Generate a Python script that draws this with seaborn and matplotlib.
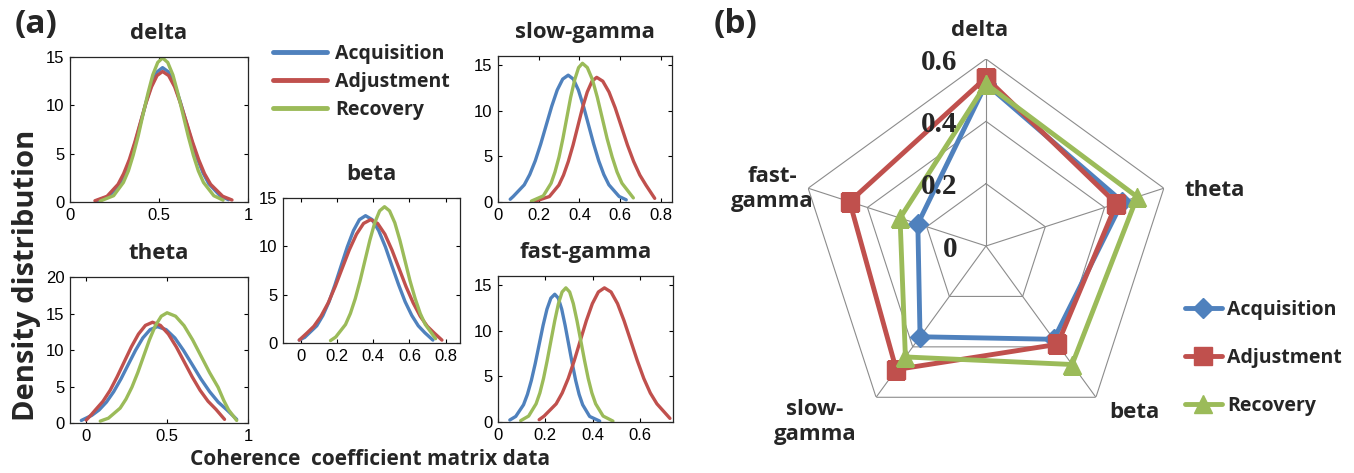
import numpy as np
import pandas as pd
import matplotlib
matplotlib.use("Agg")
import matplotlib.pyplot as plt
import seaborn as sns

# stages / colours
stages = ["Acquisition", "Adjustment", "Recovery"]
colors = ["#4F81BD", "#C0504D", "#9BBB59"]

# ---- panel (a): density curves ----
delta_acq_x = [0.15, 0.22, 0.28, 0.31, 0.34, 0.37, 0.40, 0.43, 0.46, 0.49, 0.52, 0.5525, 0.585, 0.6175, 0.65, 0.6825, 0.715, 0.7475, 0.78, 0.845, 0.89]
delta_acq_y = [0.12, 0.61, 1.88, 3.01, 4.51, 6.36, 8.43, 10.49, 12.27, 13.47, 13.9, 13.47, 12.27, 10.49, 8.43, 6.36, 4.51, 3.01, 1.88, 0.61, 0.24]
delta_adj_x = [0.14, 0.208, 0.27, 0.301, 0.333, 0.364, 0.395, 0.426, 0.458, 0.489, 0.52, 0.554, 0.588, 0.621, 0.655, 0.689, 0.723, 0.756, 0.79, 0.858, 0.91]
delta_adj_y = [0.13, 0.59, 1.83, 2.92, 4.38, 6.18, 8.19, 10.19, 11.91, 13.08, 13.5, 13.08, 11.91, 10.19, 8.19, 6.18, 4.38, 2.92, 1.83, 0.59, 0.21]
delta_rec_x = [0.17, 0.245, 0.30, 0.328, 0.355, 0.383, 0.41, 0.438, 0.465, 0.493, 0.52, 0.549, 0.578, 0.606, 0.635, 0.664, 0.693, 0.721, 0.75, 0.808, 0.86]
delta_rec_y = [0.1, 0.65, 2.02, 3.22, 4.84, 6.82, 9.04, 11.25, 13.15, 14.44, 14.9, 14.44, 13.15, 11.25, 9.04, 6.82, 4.84, 3.22, 2.02, 0.65, 0.19]

theta_acq_x = [-0.03, 0.035, 0.08, 0.125, 0.17, 0.215, 0.26, 0.305, 0.35, 0.395, 0.44, 0.494, 0.548, 0.601, 0.655, 0.709, 0.763, 0.816, 0.87, 0.93]
theta_acq_y = [0.35, 1.05, 1.79, 2.86, 4.29, 6.04, 8.01, 9.96, 11.65, 12.79, 13.2, 12.79, 11.65, 9.96, 8.01, 6.04, 4.29, 2.86, 1.79, 0.5]
theta_adj_x = [0.0, 0.03, 0.06, 0.104, 0.148, 0.191, 0.235, 0.279, 0.323, 0.366, 0.41, 0.459, 0.508, 0.557, 0.606, 0.655, 0.704, 0.753, 0.802, 0.855]
theta_adj_y = [0.4, 1.1, 1.87, 2.98, 4.48, 6.32, 8.37, 10.42, 12.18, 13.37, 13.8, 13.37, 12.18, 10.42, 8.37, 6.32, 4.48, 2.98, 1.87, 0.5]
theta_rec_x = [0.087, 0.1375, 0.21, 0.246, 0.2825, 0.319, 0.355, 0.391, 0.4275, 0.464, 0.50, 0.5525, 0.605, 0.6575, 0.71, 0.7625, 0.815, 0.85, 0.88, 0.93]
theta_rec_y = [0.26, 0.66, 2.04, 3.27, 4.9, 6.91, 9.16, 11.4, 13.33, 14.63, 15.1, 14.63, 13.33, 11.4, 9.16, 6.91, 4.9, 3.1, 1.8, 0.35]

beta_acq_x = [-0.01, 0.02, 0.087, 0.121, 0.155, 0.188, 0.222, 0.256, 0.29, 0.323, 0.357, 0.394, 0.43, 0.467, 0.503, 0.54, 0.576, 0.613, 0.649, 0.686, 0.73]
beta_acq_y = [0.3, 0.58, 1.78, 2.85, 4.28, 6.03, 7.99, 9.94, 11.62, 12.76, 13.17, 12.76, 11.62, 9.94, 7.99, 6.03, 4.28, 2.85, 1.78, 1.05, 0.3]
beta_adj_x = [-0.01, 0.032, 0.071, 0.11, 0.15, 0.189, 0.228, 0.267, 0.307, 0.346, 0.385, 0.424, 0.464, 0.503, 0.542, 0.581, 0.621, 0.66, 0.699, 0.738, 0.78]
beta_adj_y = [0.3, 1.02, 1.73, 2.76, 4.14, 5.84, 7.74, 9.63, 11.26, 12.37, 12.76, 12.37, 11.26, 9.63, 7.74, 5.84, 4.14, 2.76, 1.73, 1.02, 0.3]
beta_rec_x = [0.163, 0.192, 0.246, 0.273, 0.30, 0.327, 0.354, 0.381, 0.408, 0.435, 0.462, 0.49, 0.519, 0.547, 0.575, 0.603, 0.632, 0.66, 0.688, 0.745]
beta_rec_y = [0.25, 0.62, 1.91, 3.05, 4.58, 6.45, 8.55, 10.64, 12.44, 13.67, 14.1, 13.67, 12.44, 10.64, 8.55, 6.45, 4.58, 3.05, 1.91, 0.45]

slow_acq_x = [0.06, 0.075, 0.129, 0.156, 0.183, 0.21, 0.237, 0.264, 0.291, 0.318, 0.345, 0.37, 0.395, 0.42, 0.445, 0.47, 0.495, 0.52, 0.545, 0.595, 0.63]
slow_acq_y = [0.3, 0.61, 1.88, 3.01, 4.51, 6.36, 8.43, 10.49, 12.27, 13.47, 13.9, 13.47, 12.27, 10.49, 8.43, 6.36, 4.51, 3.01, 1.88, 0.61, 0.24]
slow_adj_x = [0.185, 0.2525, 0.299, 0.322, 0.3455, 0.369, 0.392, 0.415, 0.4385, 0.462, 0.485, 0.515, 0.5455, 0.576, 0.606, 0.636, 0.6665, 0.697, 0.727, 0.77]
slow_adj_y = [0.1, 0.6, 1.85, 2.95, 4.44, 6.25, 8.28, 10.31, 12.05, 13.24, 13.66, 13.24, 12.05, 10.31, 8.28, 6.25, 4.44, 2.95, 1.85, 0.4]
slow_rec_x = [0.164, 0.2225, 0.261, 0.28, 0.30, 0.319, 0.338, 0.357, 0.377, 0.396, 0.415, 0.439, 0.464, 0.488, 0.512, 0.536, 0.561, 0.585, 0.609, 0.665]
slow_rec_y = [0.1, 0.67, 2.06, 3.29, 4.94, 6.96, 9.22, 11.47, 13.41, 14.73, 15.2, 14.73, 13.41, 11.47, 9.22, 6.96, 4.94, 3.29, 2.06, 0.45]

fast_acq_x = [0.05, 0.075, 0.108, 0.1245, 0.141, 0.1575, 0.174, 0.1905, 0.207, 0.2235, 0.24, 0.255, 0.2695, 0.284, 0.299, 0.314, 0.3285, 0.343, 0.358, 0.3875, 0.43]
fast_acq_y = [0.22, 0.61, 1.89, 3.03, 4.55, 6.41, 8.49, 10.57, 12.36, 13.57, 14.0, 13.57, 12.36, 10.57, 8.49, 6.41, 4.55, 3.03, 1.89, 0.61, 0.1]
fast_adj_x = [0.174, 0.195, 0.246, 0.2715, 0.297, 0.3225, 0.348, 0.3735, 0.399, 0.4245, 0.45, 0.478, 0.5055, 0.533, 0.561, 0.589, 0.6165, 0.644, 0.672, 0.727]
fast_adj_y = [0.25, 0.65, 1.99, 3.18, 4.77, 6.73, 8.92, 11.1, 12.97, 14.25, 14.7, 14.25, 12.97, 11.1, 8.92, 6.73, 4.77, 3.18, 1.99, 0.4]
fast_rec_x = [0.096, 0.1295, 0.161, 0.177, 0.1925, 0.208, 0.224, 0.24, 0.2555, 0.271, 0.287, 0.303, 0.3185, 0.334, 0.35, 0.366, 0.3815, 0.397, 0.413, 0.4445, 0.486]
fast_rec_y = [0.15, 0.65, 1.99, 3.18, 4.77, 6.73, 8.92, 11.1, 12.97, 14.25, 14.7, 14.25, 12.97, 11.1, 8.92, 6.73, 4.77, 3.18, 1.99, 0.65, 0.1]

# ---- panel (b): radar values ----
bands = ["delta", "theta", "beta", "slow-gamma", "fast-gamma"]
acq_vals = [0.52, 0.46, 0.37, 0.36, 0.23]
adj_vals = [0.54, 0.44, 0.39, 0.49, 0.46]
rec_vals = [0.52, 0.51, 0.47, 0.44, 0.29]
ring_levels = [0.2, 0.4, 0.6]
ring_labels = ["0", "0.2", "0.4", "0.6"]

sns.set_style("ticks")
plt.rcParams["font.family"] = ["Liberation Sans", "DejaVu Sans"]
BOLD = dict(family=["Open Sans", "DejaVu Sans"], fontweight="bold")

W, H = 1354, 473
fig = plt.figure(figsize=(W / 100, H / 100), dpi=100)


def px_rect(x0, y0, x1, y1):
    return [x0 / W, 1 - y1 / H, (x1 - x0) / W, (y1 - y0) / H]


def band_frame(curves):
    parts = [pd.DataFrame({"x": xs, "y": ys, "stage": s}) for s, (xs, ys) in zip(stages, curves)]
    return pd.concat(parts, ignore_index=True)


panels = [
    ("delta", (70, 57, 248, 202), [(delta_acq_x, delta_acq_y), (delta_adj_x, delta_adj_y), (delta_rec_x, delta_rec_y)],
     (0, 1), [0, 0.5, 1], (0, 15), [0, 5, 10, 15]),
    ("theta", (70, 277, 248, 423), [(theta_acq_x, theta_acq_y), (theta_adj_x, theta_adj_y), (theta_rec_x, theta_rec_y)],
     (-0.1, 1), [0, 0.5, 1], (0, 20), [0, 5, 10, 15, 20]),
    ("beta", (283, 198, 460, 343), [(beta_acq_x, beta_acq_y), (beta_adj_x, beta_adj_y), (beta_rec_x, beta_rec_y)],
     (-0.1, 0.88), [0, 0.2, 0.4, 0.6, 0.8], (0, 15), [0, 5, 10, 15]),
    ("slow-gamma", (498, 56, 672, 202), [(slow_acq_x, slow_acq_y), (slow_adj_x, slow_adj_y), (slow_rec_x, slow_rec_y)],
     (0, 0.855), [0, 0.2, 0.4, 0.6, 0.8], (0, 16), [0, 5, 10, 15]),
    ("fast-gamma", (498, 276, 673, 422), [(fast_acq_x, fast_acq_y), (fast_adj_x, fast_adj_y), (fast_rec_x, fast_rec_y)],
     (0, 0.74), [0, 0.2, 0.4, 0.6], (0, 16), [0, 5, 10, 15]),
]

first_ax = None
for name, box, curves, xlim, xt, ylim, yt in panels:
    ax = fig.add_axes(px_rect(*box))
    df = band_frame(curves)
    sns.lineplot(data=df, x="x", y="y", hue="stage", hue_order=stages, palette=colors,
                 sort=False, estimator=None, lw=2.4, ax=ax, legend=(first_ax is None))
    ax.set_xlim(*xlim)
    ax.set_ylim(*ylim)
    ax.set_xticks(xt, [f"{t:g}" for t in xt])
    ax.set_yticks(yt, [f"{t:g}" for t in yt])
    ax.tick_params(direction="in", top=True, right=True, length=3, width=0.8,
                   labelsize=12, colors="black", pad=4)
    for sp in ax.spines.values():
        sp.set_visible(True)
        sp.set_linewidth(0.9)
    ax.set_xlabel("")
    ax.set_ylabel("")
    ax.set_title(name, fontsize=16, pad=13, **BOLD)
    if first_ax is None:
        first_ax = ax

handles, labels = first_ax.get_legend_handles_labels()
first_ax.get_legend().remove()
for h in handles:
    h.set_linewidth(3.5)
fig.legend(handles, labels, loc="center left", bbox_to_anchor=(273 / W, 1 - 82 / H),
           frameon=False, borderpad=0, borderaxespad=0, handlelength=2.8, handletextpad=0.4,
           labelspacing=0.42, prop=dict(family="Open Sans", weight="bold", size=14))

fig.text(27 / W, 1 - 275 / H, "Density distribution", rotation=90, ha="center", va="center",
         fontsize=21, **BOLD)
fig.text(370 / W, 1 - 459 / H, "Coherence  coefficient matrix data", ha="center", va="center",
         fontsize=15, **BOLD)
fig.text(36 / W, 1 - 25 / H, "(a)", ha="center", va="center", fontsize=24, **BOLD)
fig.text(736 / W, 1 - 25 / H, "(b)", ha="center", va="center", fontsize=24, **BOLD)

# ---- panel (b): radar ----
cx, cy, R = 986, 246, 187
rax = fig.add_axes(px_rect(cx - R, cy - R, cx + R, cy + R), projection="polar")
rax.set_theta_offset(np.pi / 2)
rax.set_theta_direction(-1)
rax.set_ylim(0, 0.6)
rax.grid(False)
rax.spines["polar"].set_visible(False)
rax.set_xticks([])
rax.set_yticks([])
rax.patch.set_alpha(0)

angles = np.arange(len(bands)) * 2 * np.pi / len(bands)
closed = np.append(angles, angles[0])
for lv in ring_levels:
    rax.plot(closed, [lv] * len(closed), color="#8c8c8c", lw=0.8, zorder=1)
for a in angles:
    rax.plot([a, a], [0, ring_levels[-1]], color="#8c8c8c", lw=0.8, zorder=1)

markers = ["D", "s", "^"]
msizes = [10, 13, 13]
for vals, c, m, ms, lab in zip([acq_vals, adj_vals, rec_vals], colors, markers, msizes, stages):
    v = np.append(vals, vals[0])
    rax.plot(closed, v, color=c, lw=3.5, marker=m, markersize=ms, label=lab, zorder=3)

for r, t in zip([0] + ring_levels, ring_labels):
    rax.annotate(t, xy=(0, r), xytext=(-29, -3), textcoords="offset pixels", ha="right",
                 va="center", fontsize=21, fontweight="bold", family="Liberation Serif")

cat_pos = [(980, 31), (1215, 190), (1134, 412), (815, 422), (772, 189)]
cat_txt = ["delta", "theta", "beta", "slow-\ngamma", "fast-\ngamma"]
for (px, py), t in zip(cat_pos, cat_txt):
    fig.text(px / W, 1 - py / H, t, ha="center", va="center", fontsize=16, linespacing=1.2, **BOLD)

fig.legend(*rax.get_legend_handles_labels(), loc="center left", bbox_to_anchor=(1185 / W, 1 - 358 / H),
           frameon=False, borderpad=0, borderaxespad=0, handlelength=1.9, handletextpad=0.25,
           labelspacing=1.45, prop=dict(family="Open Sans", weight="bold", size=14))

fig.savefig("out.png", dpi=100)
